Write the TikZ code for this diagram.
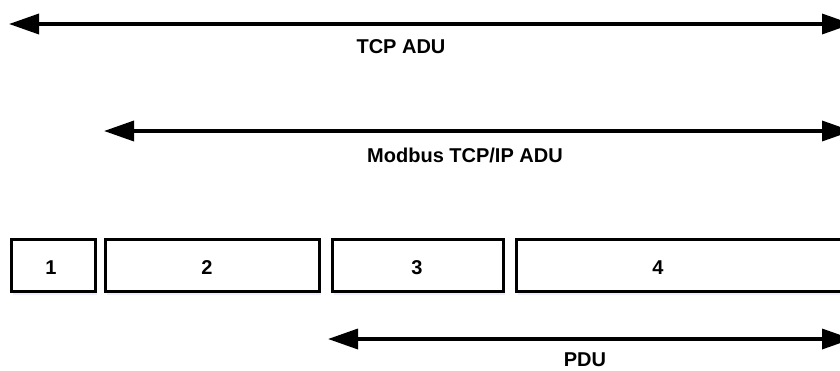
\documentclass[tikz,border=0pt]{standalone}
\usepackage{fontspec}
\setmainfont{Liberation Sans}
\usetikzlibrary{arrows.meta,shadows}
\begin{document}
\begin{tikzpicture}[x=1pt,y=-1pt,
  field/.style={draw=black,line width=3pt,fill=white,rectangle,inner sep=0pt,
    minimum height=52pt,
    drop shadow={shadow xshift=1pt,shadow yshift=-3pt,fill=blue!7!white,opacity=1}},
  lbl/.style={font=\fontsize{20}{24}\selectfont\bfseries,inner sep=0pt,anchor=base},
  span/.style={line width=3.5pt,{Triangle[length=30pt,width=20pt]}-{Triangle[length=30pt,width=20pt]}}]
\useasboundingbox (0,0) rectangle (840,370);
\clip (0,0) rectangle (840,370);
% boxes
\node[field,minimum width=84pt] (b1) at (53.5,265.5) {};
\node[field,minimum width=214pt] (b2) at (212.5,265.5) {};
\node[field,minimum width=171pt] (b3) at (418,265.5) {};
\node[field,minimum width=380pt] (b4) at (706.5,265.5) {};
\node[lbl] (n1) at (51,274) {1};
\node[lbl] (n2) at (207,274) {2};
\node[lbl] (n3) at (417,274) {3};
\node[lbl] (n4) at (658,274) {4};
% arrows
\coordinate (a1l) at (9,24);
\coordinate (a1r) at (852,24);
\draw[span] (a1l) -- (a1r);
\node[lbl] (t1) at (401,53) {TCP ADU};
\coordinate (a2l) at (104,131);
\coordinate (a2r) at (852,131);
\draw[span] (a2l) -- (a2r);
\node[lbl] (t2) at (465,162) {Modbus TCP/IP ADU};
\coordinate (a3l) at (328,339);
\coordinate (a3r) at (852,339);
\draw[span] (a3l) -- (a3r);
\node[lbl] (t3) at (585,366) {PDU};
\end{tikzpicture}
\end{document}
